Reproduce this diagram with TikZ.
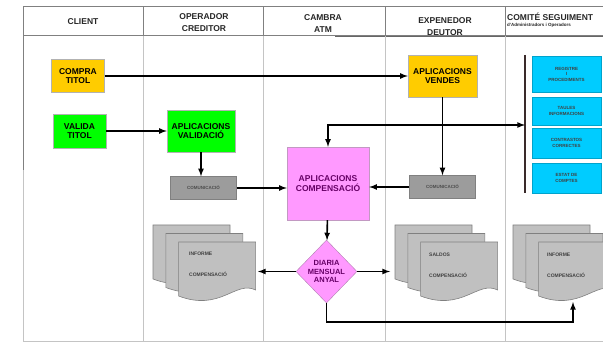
\documentclass[tikz,border=0pt]{standalone}
\usepackage{fontspec}
\setmainfont{Liberation Sans}
\usetikzlibrary{arrows}
\usetikzlibrary{positioning}
\usetikzlibrary{shapes.geometric}
\definecolor{GoldYellow}{HTML}{FFCC00}
\definecolor{LightGreen}{HTML}{00FF00}
\definecolor{LightPink}{HTML}{FF99FF}
\definecolor{DarkPurple}{HTML}{660066}
\definecolor{LightBlue}{HTML}{00CCFF}
\definecolor{MidGrey}{HTML}{9C9C9C}
\definecolor{DocGrey}{HTML}{C0C0C0}
\definecolor{LaneGrey}{HTML}{C4C4C4}
\definecolor{DarkBrown}{HTML}{3A2A2A}

\begin{document}
\begin{tikzpicture}[x=1pt,y=-1pt,
  frame/.style={draw=gray,line width=1pt},
  lane/.style={draw=LaneGrey,line width=1pt},
  hdr/.style={align=center,inner sep=0pt,font=\fontsize{8.5}{12}\selectfont\bfseries,text=black!85},
  proc/.style={draw=gray!60,inner sep=1pt,align=center,font=\fontsize{8.5}{9.5}\selectfont\bfseries},
  note/.style={draw=gray,fill=MidGrey,inner sep=1pt,minimum width=66,minimum height=23,font=\fontsize{4.5}{5}\selectfont\bfseries,text=black!70},
  comit/.style={fill=LightBlue,draw=LightBlue!80!black,align=center,minimum width=69,inner sep=1pt,font=\fontsize{4.5}{5.5}\selectfont\bfseries,text=black!75},
  sheet/.style={draw=gray,fill=DocGrey,line width=0.6pt},
  doctext/.style={align=left,anchor=north west,inner sep=0pt,font=\fontsize{5}{6}\selectfont\bfseries,text=black!75},
  flow/.style={line width=1.6pt,-latex}]

  \useasboundingbox (0,0) rectangle (603,342);
  \clip (0,0) rectangle (603,342);

  % swimlanes
  \draw[lane] (23,36) -- (23,341) -- (610,341);
  \draw[frame] (23,7) -- (610,7);
  \draw[frame] (23,36) -- (610,36);
  \draw[draw=gray!80!black,line width=1pt] (335,37) -- (610,37);
  \draw[frame] (23,7) -- (23,170);
  \foreach \x in {143,263,385,505}{%
    \draw[frame] (\x,7) -- (\x,36);
    \draw[lane] (\x,36) -- (\x,341);
  }

  \node[hdr] (hClient) at (83,22) {CLIENT};
  \node[hdr] (hOper) at (204,23) {OPERADOR\\CREDITOR};
  \node[hdr] (hCambra) at (323,24) {CAMBRA\\ATM};
  \node[hdr] (hExp) at (445,27) {EXPENEDOR\\DEUTOR};
  \node[hdr,align=left,anchor=west] (hComit) at (507,20)
    {COMITÉ SEGUIMENT\\[-6pt]{\fontsize{4.5}{5}\selectfont d'Administradors i Operadors}};

  % process boxes
  \node[proc,fill=GoldYellow,minimum width=53,minimum height=33] (compra) at (78,76) {COMPRA\\TITOL};
  \node[proc,fill=LightGreen,minimum width=53,minimum height=34] (valida) at (79.5,131) {VALIDA\\TITOL};
  \node[proc,fill=LightGreen,minimum width=68,minimum height=42] (validacio) at (201,131) {APLICACIONS\\VALIDACIÓ};
  \node[proc,fill=GoldYellow,minimum width=69,minimum height=42] (vendes) at (442.5,76) {APLICACIONS\\VENDES};
  \node[proc,fill=LightPink,draw=DarkPurple!40,text=DarkPurple,minimum width=82,minimum height=73] (compens) at (328,183.5) {APLICACIONS\\COMPENSACIÓ};
  \node[draw=DarkPurple!50,fill=LightPink,text=DarkPurple,diamond,inner sep=0pt,minimum width=61,minimum height=63,
    align=center,font=\fontsize{7.5}{8.5}\selectfont\bfseries] (diaria) at (326.5,271.5) {DIARIA\\MENSUAL\\ANYAL};

  \node[note] (commL) at (203.5,188) {COMUNICACIÓ};
  \node[note] (commR) at (442.5,187) {COMUNICACIÓ};

  % comite
  \draw[DarkBrown,line width=2pt] (525,55) -- (525,193);
  \coordinate (brk) at (525,125);
  \node[comit,minimum height=36] (registre) at (566.5,74) {REGISTRE\\I\\PROCEDIMENTS};
  \node[comit,minimum height=28] (taules) at (566.5,111) {TAULES\\INFORMACIONS};
  \node[comit,minimum height=30] (contrast) at (566.5,143) {CONTRASTOS\\CORRECTES};
  \node[comit,minimum height=30] (estat) at (566.5,178) {ESTAT DE\\COMPTES};

  % documents
  \foreach \gx in {153,395,513}{%
    \foreach \k in {0,1,2}{%
      \draw[sheet,shift={(\gx+12.8*\k,225+8.5*\k)}]
        (0,0) -- (77,0) -- (77,48) .. controls (57,38) and (42,70) .. (0,54) -- cycle;
    }
  }
  \node[doctext] (infL) at (189,252) {INFORME\\[15pt]COMPENSACIÓ};
  \node[doctext] (infM) at (429,253) {SALDOS\\[15pt]COMPENSACIÓ};
  \node[doctext] (infR) at (547,253) {INFORME\\[15pt]COMPENSACIÓ};
  \coordinate (docL) at (258,271.5);
  \coordinate (docM) at (390,271.5);
  \coordinate (docR) at (573,302);
  \coordinate (turn) at (326.5,322);

  % connectors
  \draw[flow] (compra) -- (vendes);
  \draw[flow] (valida) -- (validacio);
  \draw[flow] (validacio.south) -- (validacio.south |- commL.north);
  \draw[flow] (vendes) -- (commR);
  \draw[flow] (commL.east) -- (commL.east -| compens.west);
  \draw[flow] (commR.west) -- (commR.west -| compens.east);
  \draw[flow,latex-latex] (compens.north) |- (brk);
  \draw[flow] (compens) -- (diaria);
  \draw[flow] (diaria.west) -- (docL);
  \draw[flow] (diaria.east) -- (docM);
  \draw[flow] (diaria.south) -- (turn) -| (docR);
\end{tikzpicture}
\end{document}
